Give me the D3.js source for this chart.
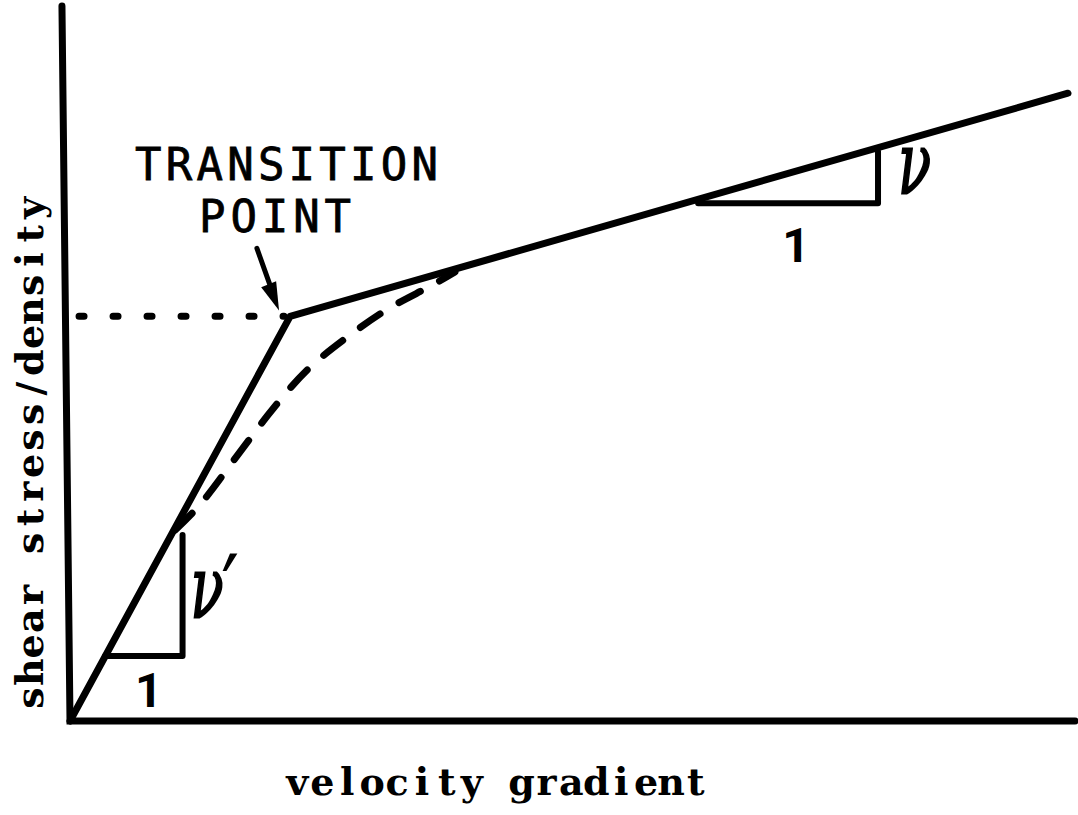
<!DOCTYPE html>
<html>
<head>
<meta charset="utf-8">
<script src="https://cdn.jsdelivr.net/npm/d3@7/dist/d3.min.js"></script>
<style>
  html, body { margin: 0; padding: 0; background: #fff; }
  svg { display: block; }
</style>
</head>
<body>
<svg id="chart" width="1078" height="815"></svg>
<script>
// ---- data (arbitrary units: velocity gradient 0..100, shear stress/density 0..100)
const solidX = [0, 21.9, 99.3];
const solidY = [0, 56.6, 87.8];

const dashedX = [10.45, 12.9, 16.9, 20.1, 23.6, 27.6, 31.6, 36.1, 38.3];
const dashedY = [26.7, 30.2, 37.6, 43.5, 49.1, 53.7, 57.6, 61.0, 62.8];

const transitionX = 21.9;
const transitionY = 56.6;

// slope triangles: [x0, x1, yBase, yTop]
const lowerTriangle = [3.5, 11.2, 9.1, 26.0];
const upperTriangle = [62.5, 80.4, 72.4, 79.6];

const axisXLabel = "velocity gradient";
const axisYLabel = "shear stress/density";
const transitionLabel = ["TRANSITION", "POINT"];
const slopeLabels = ["1", "ν′", "ν"];

// ---- scales
const svg = d3.select("#chart");
const x = d3.scaleLinear().domain([0, 100]).range([70, 1075]);
const y = d3.scaleLinear().domain([0, 100]).range([721, 6]);

const line = d3.line().x(d => x(d[0])).y(d => y(d[1]));

// axes
svg.append("path")
  .attr("d", line([[-0.8, 100], [0, 0], [100, 0]]))
  .attr("fill", "none").attr("stroke", "#000").attr("stroke-width", 7)
  .attr("stroke-linejoin", "miter").attr("stroke-linecap", "round");

// dotted guide to transition point
svg.append("path")
  .attr("d", line([[0.9, transitionY], [transitionX - 0.6, transitionY]]))
  .attr("fill", "none").attr("stroke", "#000").attr("stroke-width", 7)
  .attr("stroke-linecap", "round").attr("stroke-dasharray", "5,29");

// dashed curve
svg.append("path")
  .attr("d", d3.line().curve(d3.curveCatmullRom).x(d => x(d[0])).y(d => y(d[1]))(dashedX.map((v, i) => [v, dashedY[i]])))
  .attr("fill", "none").attr("stroke", "#000").attr("stroke-width", 7)
  .attr("stroke-linecap", "round").attr("stroke-dasharray", "24,22");

// solid bilinear line
svg.append("path")
  .attr("d", line(solidX.map((v, i) => [v, solidY[i]])))
  .attr("fill", "none").attr("stroke", "#000").attr("stroke-width", 7)
  .attr("stroke-linejoin", "round").attr("stroke-linecap", "round");

// slope triangles
[lowerTriangle, upperTriangle].forEach(t => {
  svg.append("path")
    .attr("d", line([[t[0], t[2]], [t[1], t[2]], [t[1], t[3]]]))
    .attr("fill", "none").attr("stroke", "#000").attr("stroke-width", 6)
    .attr("stroke-linejoin", "round").attr("stroke-linecap", "round");
});

// arrow
const arrowStart = [18.6, 66.1];
const arrowEnd = [transitionX - 1.1, transitionY + 0.8];
const ax0 = x(arrowStart[0]), ay0 = y(arrowStart[1]);
const ax1 = x(arrowEnd[0]), ay1 = y(arrowEnd[1]);
const ang = Math.atan2(ay1 - ay0, ax1 - ax0);
const headLen = 28, headW = 9;
const bx = ax1 - headLen * Math.cos(ang), by = ay1 - headLen * Math.sin(ang);
svg.append("path")
  .attr("d", `M${ax0},${ay0} L${bx},${by}`)
  .attr("stroke", "#000").attr("stroke-width", 5).attr("stroke-linecap", "round");
svg.append("path")
  .attr("d", `M${ax1},${ay1} L${bx + headW * Math.sin(ang) - 2},${by - headW * Math.cos(ang)} L${bx - headW * Math.sin(ang)},${by + headW * Math.cos(ang)} Z`)
  .attr("fill", "#000");

// typewriter-style monospaced text: each character centred in its own cell
function monoText(g, str, startX, baseline, pitch) {
  const xs = str.split("").map((c, i) => (startX + pitch * (i + 0.5)).toFixed(1));
  return g.append("text")
    .attr("x", xs.join(" ")).attr("y", baseline)
    .attr("text-anchor", "middle")
    .attr("font-family", "'DejaVu Serif', 'Liberation Serif', serif")
    .attr("font-weight", "bold").attr("font-size", 38)
    .text(str);
}

// x-axis label
monoText(svg, axisXLabel, 285, 795, 24.9);

// y-axis label (rotated)
const yLab = svg.append("g").attr("transform", "translate(43,453) rotate(-90)");
monoText(yLab, axisYLabel, -258, 0, 25.8);

// transition point label
svg.append("text")
  .attr("x", 135).attr("y", 180)
  .attr("font-family", "'DejaVu Sans Mono', monospace")
  .attr("font-size", 44).attr("textLength", 303)
  .attr("stroke", "#000").attr("stroke-width", 0.8)
  .text(transitionLabel[0]);
svg.append("text")
  .attr("x", 199).attr("y", 232)
  .attr("font-family", "'DejaVu Sans Mono', monospace")
  .attr("font-size", 44).attr("textLength", 152)
  .attr("stroke", "#000").attr("stroke-width", 0.8)
  .text(transitionLabel[1]);

// slope labels
const oneFont = "Roboto, 'Open Sans', sans-serif";
svg.append("text")
  .attr("x", x((lowerTriangle[0] + lowerTriangle[1]) / 2) + 5).attr("y", 707)
  .attr("text-anchor", "middle").attr("font-family", oneFont)
  .attr("font-weight", "bold")
  .attr("font-size", 48).text(slopeLabels[0]);
svg.append("text")
  .attr("x", x((upperTriangle[0] + upperTriangle[1]) / 2) + 8).attr("y", 262)
  .attr("text-anchor", "middle").attr("font-family", oneFont)
  .attr("font-weight", "bold")
  .attr("font-size", 48).text(slopeLabels[0]);

svg.append("text")
  .attr("transform", `translate(${x(lowerTriangle[1]) + 8},617) scale(0.85,1.35)`)
  .attr("font-family", "'DejaVu Serif', serif").attr("font-style", "italic")
  .attr("stroke", "#000").attr("stroke-width", 1.6)
  .attr("font-size", 64).text(slopeLabels[1]);
svg.append("text")
  .attr("transform", `translate(${x(upperTriangle[1]) + 20},193) scale(0.85,1.35)`)
  .attr("font-family", "'DejaVu Serif', serif").attr("font-style", "italic")
  .attr("stroke", "#000").attr("stroke-width", 1.6)
  .attr("font-size", 64).text(slopeLabels[2]);
</script>
</body>
</html>
